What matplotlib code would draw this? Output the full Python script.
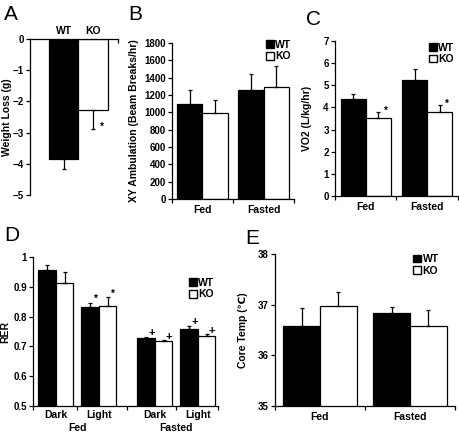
import matplotlib
matplotlib.use("Agg")
import matplotlib.pyplot as plt
import numpy as np
from matplotlib.patches import Patch

plt.rcParams["font.family"] = ["Liberation Sans", "DejaVu Sans"]
plt.rcParams["font.weight"] = "bold"
plt.rcParams["font.size"] = 7

# ---- data ----
groups = ["WT", "KO"]
loss_vals = [-3.85, -2.28]
loss_err = [0.32, 0.62]

fed_fasted = ["Fed", "Fasted"]
xy_wt = [1094, 1262]
xy_wt_err = [161, 177]
xy_ko = [994, 1293]
xy_ko_err = [153, 246]

vo2_wt = [4.36, 5.22]
vo2_wt_err = [0.23, 0.53]
vo2_ko = [3.51, 3.81]
vo2_ko_err = [0.30, 0.28]

rer_cats = ["Dark", "Light", "Dark", "Light"]
rer_groups = ["Fed", "Fasted"]
rer_wt = [0.955, 0.833, 0.727, 0.760]
rer_wt_err = [0.019, 0.013, 0.005, 0.010]
rer_ko = [0.913, 0.835, 0.718, 0.736]
rer_ko_err = [0.035, 0.031, 0.003, 0.004]
rer_marks_wt = ["", "*", "+", "+"]
rer_marks_ko = ["", "*", "+", "+"]

temp_wt = [36.58, 36.83]
temp_wt_err = [0.36, 0.12]
temp_ko = [36.98, 36.58]
temp_ko_err = [0.27, 0.32]

W, H = 460, 436
fig = plt.figure(figsize=(W / 100, H / 100), dpi=100)


def px_axes(x0, y0, x1, y1):
    return fig.add_axes([x0 / W, 1 - y1 / H, (x1 - x0) / W, (y1 - y0) / H])


def style(ax):
    for s in ["top", "right"]:
        ax.spines[s].set_visible(False)
    for s in ["left", "bottom"]:
        ax.spines[s].set_linewidth(0.9)
    ax.tick_params(axis="y", direction="out", length=3, width=0.9, pad=1.5, labelsize=7)
    ax.tick_params(axis="x", which="major", length=0, pad=4, labelsize=7.5)
    ax.tick_params(axis="x", which="minor", direction="out", length=3, width=0.9)


bar_kw = dict(edgecolor="black", linewidth=0.9,
              error_kw=dict(elinewidth=0.9, capsize=1.5, capthick=0.9, ecolor="black"))
legend_handles = [Patch(facecolor="black", edgecolor="black", label="WT"),
                  Patch(facecolor="white", edgecolor="black", label="KO")]


def add_legend(ax, anchor):
    ax.legend(handles=legend_handles, loc="upper right", bbox_to_anchor=anchor,
              frameon=False, handlelength=0.75, handleheight=0.75,
              handletextpad=0.15, labelspacing=0.15, borderpad=0,
              borderaxespad=0, prop=dict(size=7.5, weight="bold"))


def panel_letter(x, y, s):
    fig.text(x / W, 1 - y / H, s, fontsize=15, fontweight="normal", va="top", ha="left")


# ---- A ----
ax = px_axes(30, 39, 118, 195)
style(ax)
ax.spines["bottom"].set_visible(False)
ax.spines["top"].set_visible(True)
ax.spines["top"].set_linewidth(0.9)
x = np.arange(len(groups))
ax.bar(x, loss_vals, width=1.0, color=["black", "white"],
       yerr=[loss_err, [0, 0]], **bar_kw)
ax.set_ylim(-5, 0)
ax.set_xlim(-1.14, 1.84)
ax.set_yticks(np.arange(-5, 1, 1))
ax.xaxis.tick_top()
ax.set_xticks(x)
ax.set_xticklabels(groups)
ax.set_xticks([1.84], minor=True)
ax.tick_params(axis="x", which="major", length=0, pad=2)
ax.tick_params(axis="x", which="minor", direction="in", length=3)
ax.set_ylabel("Weight Loss (g)", fontsize=7.5, fontweight="bold")
ax.yaxis.set_label_coords(-0.2, 0.5)
ax.text(1 + 0.3, loss_vals[1] - loss_err[1] + 0.08, "*", ha="center", va="center", fontsize=7)
panel_letter(4, 5, "A")

# ---- B ----
ax = px_axes(172, 43, 294, 199)
style(ax)
x = np.arange(len(fed_fasted))
bw = 0.41
ax.bar(x - bw / 2, xy_wt, width=bw, color="black", yerr=[[0, 0], xy_wt_err], **bar_kw)
ax.bar(x + bw / 2, xy_ko, width=bw, color="white", yerr=[[0, 0], xy_ko_err], **bar_kw)
ax.set_ylim(0, 1800)
ax.set_xlim(-0.5, 1.5)
ax.set_yticks(np.arange(0, 1801, 200))
ax.set_xticks(x)
ax.set_xticklabels(fed_fasted)
ax.set_xticks([-0.5, 0.5, 1.5], minor=True)
ax.set_ylabel("XY Ambulation (Beam Breaks/hr)", fontsize=7.5, fontweight="bold")
ax.yaxis.set_label_coords(-0.27, 0.5)
add_legend(ax, (0.98, 1.02))
panel_letter(128, 5, "B")

# ---- C ----
ax = px_axes(335, 41, 458, 196)
style(ax)
ax.bar(x - bw / 2, vo2_wt, width=bw, color="black", yerr=[[0, 0], vo2_wt_err], **bar_kw)
ax.bar(x + bw / 2, vo2_ko, width=bw, color="white", yerr=[[0, 0], vo2_ko_err], **bar_kw)
ax.set_ylim(0, 7)
ax.set_xlim(-0.5, 1.5)
ax.set_yticks(np.arange(0, 8, 1))
ax.set_xticks(x)
ax.set_xticklabels(fed_fasted)
ax.set_xticks([-0.5, 0.5, 1.5], minor=True)
ax.set_ylabel("VO2 (L/kg/hr)", fontsize=7.5, fontweight="bold")
ax.yaxis.set_label_coords(-0.19, 0.5)
for xi, v, e in zip(x, vo2_ko, vo2_ko_err):
    ax.text(xi + bw / 2 + 0.12, v + e + 0.05, "*", ha="center", va="center", fontsize=7)
add_legend(ax, (0.97, 0.99))
panel_letter(306, 10, "C")

# ---- D ----
ax = px_axes(33, 257, 218, 406)
style(ax)
xd = np.array([0, 1, 2.3, 3.3])
bw = 0.41
ax.bar(xd - bw / 2, rer_wt, width=bw, color="black",
       yerr=[np.zeros(4), rer_wt_err], **bar_kw)
ax.bar(xd + bw / 2, rer_ko, width=bw, color="white",
       yerr=[np.zeros(4), rer_ko_err], **bar_kw)
ax.set_ylim(0.5, 1.0)
ax.set_xlim(-0.53, 3.77)
yt = np.arange(0.5, 1.01, 0.1)
ax.set_yticks(yt)
ax.set_yticklabels([f"{v:.1f}" if v < 0.99 else "1" for v in yt])
ax.set_xticks(xd)
ax.set_xticklabels(rer_cats)
ax.set_xticks([-0.53, 0.5, 1.65, 2.8, 3.77], minor=True)
ax.tick_params(axis="x", which="major", pad=3)
for xi, v, e, m in zip(xd, rer_wt, rer_wt_err, rer_marks_wt):
    if m:
        ax.text(xi - bw / 2 + 0.13, v + e + 0.012, m, ha="center", va="center",
                fontsize=8 if m == "+" else 7)
for xi, v, e, m in zip(xd, rer_ko, rer_ko_err, rer_marks_ko):
    if m:
        ax.text(xi + bw / 2 + 0.13, v + e + 0.012, m, ha="center", va="center",
                fontsize=8 if m == "+" else 7)
for gx, g in zip([xd[:2].mean(), xd[2:].mean()], rer_groups):
    ax.annotate(g, xy=(gx, 0), xycoords=("data", "axes fraction"),
                xytext=(0, -12.5), textcoords="offset points",
                ha="center", va="top", fontsize=7.5, fontweight="bold")
ax.set_ylabel("RER", fontsize=7.5, fontweight="bold")
ax.yaxis.set_label_coords(-0.125, 0.5)
add_legend(ax, (0.98, 0.86))
panel_letter(4, 226, "D")

# ---- E ----
ax = px_axes(275, 254, 455, 406)
style(ax)
bw = 0.41
ax.bar(x - bw / 2, temp_wt, width=bw, color="black", yerr=[[0, 0], temp_wt_err], **bar_kw)
ax.bar(x + bw / 2, temp_ko, width=bw, color="white", yerr=[[0, 0], temp_ko_err], **bar_kw)
ax.set_ylim(35, 38)
ax.set_xlim(-0.5, 1.5)
ax.set_yticks(np.arange(35, 39, 1))
ax.set_xticks(x)
ax.set_xticklabels(fed_fasted)
ax.set_xticks([-0.5, 0.5, 1.5], minor=True)
ax.set_ylabel("Core Temp (\u2103)", fontsize=7.5, fontweight="bold")
ax.yaxis.set_label_coords(-0.15, 0.5)
add_legend(ax, (0.91, 1.0))
panel_letter(245, 229, "E")

fig.savefig("out.png", dpi=100)
